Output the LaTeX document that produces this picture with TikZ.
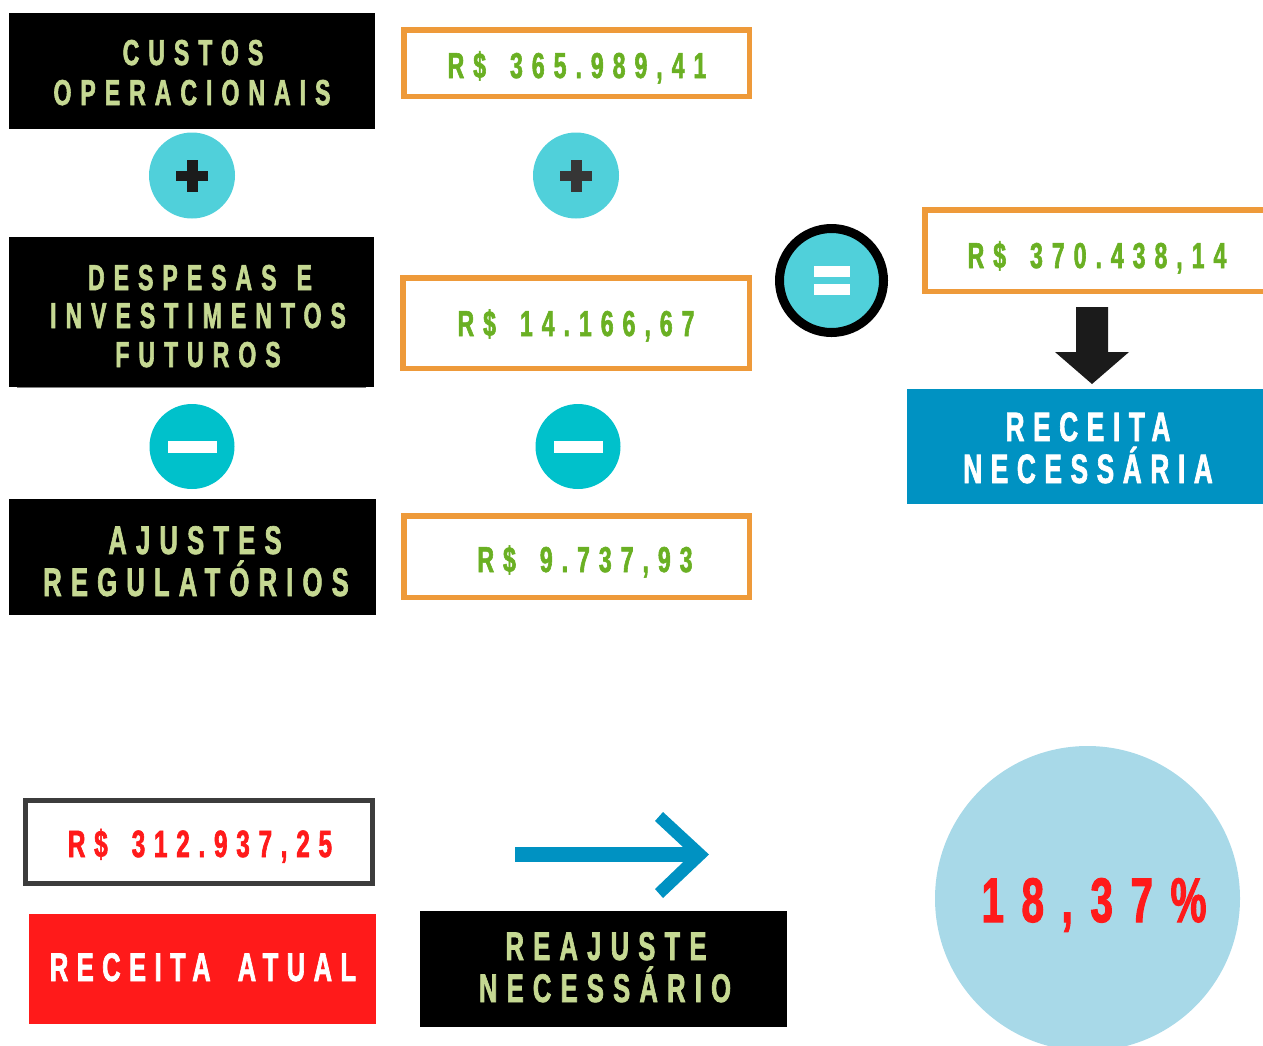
\documentclass[tikz,border=0pt]{standalone}
\usepackage{fontspec}
\newfontfamily\osw{Liberation Sans}[FakeStretch=0.64, FakeBold=1.6]
\newcommand\wgap[1]{\hspace{#1pt}}
\definecolor{labgreen}{RGB}{197,216,146}
\definecolor{numgreen}{RGB}{106,176,35}
\definecolor{boxorange}{RGB}{238,154,58}
\definecolor{plusteal}{RGB}{80,208,218}
\definecolor{minusteal}{RGB}{0,193,203}
\definecolor{deepblue}{RGB}{0,146,194}
\definecolor{brightred}{RGB}{255,26,26}
\definecolor{paleblue}{RGB}{168,217,232}
\definecolor{darkgray}{RGB}{60,60,60}
\definecolor{nearblack}{RGB}{27,27,27}
\tikzset{
  blackbox/.style={rectangle, fill=black, inner sep=0, outer sep=0},
  orangebox/.style={rectangle, draw=boxorange, line width=5.5pt, fill=white, inner sep=0, outer sep=0},
  signcircle/.style={circle, inner sep=0, outer sep=0, minimum size=86pt},
  txtA/.style={inner sep=0, anchor=base, font=\osw\bfseries\fontsize{36}{36}\selectfont\addfontfeature{LetterSpace=25}},
  txtB/.style={inner sep=0, anchor=base, font=\osw\bfseries\fontsize{40}{40}\selectfont\addfontfeature{LetterSpace=23}},
}
\begin{document}
\begin{tikzpicture}[x=1pt,y=-1pt]
\useasboundingbox (0,0) rectangle (1263,1045);
% left column boxes
\node[blackbox, minimum width=366pt, minimum height=116pt] (b1) at (192,71) {};
\node[txtA, text=labgreen] (b1a) at (193,65) {CUSTOS};
\node[txtA, text=labgreen] (b1b) at (192,105) {OPERACIONAIS};

\draw[gray, line width=1.2pt] (17,387.5) -- (366,387.5);
\node[blackbox, minimum width=365pt, minimum height=150pt] (b2) at (191.5,312) {};
\node[txtA, text=labgreen] (b2a) at (200,290) {DESPESAS\wgap{20}E};
\node[txtA, text=labgreen] (b2b) at (198,328) {INVESTIMENTOS};
\node[txtA, text=labgreen] (b2c) at (198,367) {FUTUROS};

\node[blackbox, minimum width=367pt, minimum height=116pt] (b3) at (192.5,557) {};
\node[txtB, text=labgreen] (b3a) at (195,554) {AJUSTES};
\node[txtB, text=labgreen] (b3b) at (196,596) {REGULATÓRIOS};

% plus circles
\node[signcircle, fill=plusteal] (p1) at (192,175.5) {};
\fill[nearblack] ([xshift=-16pt,yshift=-5pt]p1.center) rectangle ([xshift=16pt,yshift=5pt]p1.center);
\fill[nearblack] ([xshift=-5.5pt,yshift=-16pt]p1.center) rectangle ([xshift=5.5pt,yshift=16pt]p1.center);
\node[signcircle, fill=plusteal] (p2) at (576,175.5) {};
\fill[darkgray!90!black] ([xshift=-16pt,yshift=-5pt]p2.center) rectangle ([xshift=16pt,yshift=5pt]p2.center);
\fill[darkgray!90!black] ([xshift=-5.5pt,yshift=-16pt]p2.center) rectangle ([xshift=5.5pt,yshift=16pt]p2.center);

% minus circles
\node[signcircle, fill=minusteal, minimum size=85pt] (m1) at (192,446.5) {};
\fill[white] ([xshift=-24.5pt,yshift=-6pt]m1.center) rectangle ([xshift=24.5pt,yshift=6pt]m1.center);
\node[signcircle, fill=minusteal, minimum size=85pt] (m2) at (578,446.5) {};
\fill[white] ([xshift=-24.5pt,yshift=-6pt]m2.center) rectangle ([xshift=24.5pt,yshift=6pt]m2.center);

% orange value boxes
\node[orangebox, minimum width=345.5pt, minimum height=66.5pt] (o1) at (576.5,63) {};
\node[txtA, text=numgreen] (o1t) at (577,78) {R\$\wgap{24}365.989,41};
\node[orangebox, minimum width=346.5pt, minimum height=90.5pt] (o2) at (576,323) {};
\node[txtA, text=numgreen] (o2t) at (576,336) {R\$\wgap{24}14.166,67};
\node[orangebox, minimum width=345.5pt, minimum height=81.5pt] (o3) at (576.5,556.5) {};
\node[txtA, text=numgreen] (o3t) at (585,572) {R\$\wgap{24}9.737,93};

% equals circle
\node[circle, draw=black, line width=9pt, fill=plusteal, minimum size=104pt, inner sep=0] (eq) at (831.5,280.5) {};
\fill[white] ([xshift=-17.5pt,yshift=-14.5pt]eq.center) rectangle ([xshift=18pt,yshift=-3.5pt]eq.center);
\fill[white] ([xshift=-17.5pt,yshift=3.5pt]eq.center) rectangle ([xshift=18pt,yshift=14.5pt]eq.center);

% result box
\node[orangebox, minimum width=344.5pt, minimum height=81.5pt] (o4) at (1097,250.5) {};
\node[txtA, text=numgreen] (o4t) at (1097,268) {R\$\wgap{24}370.438,14};

% down arrow
\fill[nearblack] (1076,307) -- (1108,307) -- (1108,352) -- (1129,352) -- (1092,384) -- (1055,352) -- (1076,352) -- cycle;

% receita necessaria
\node[rectangle, fill=deepblue, minimum width=356pt, minimum height=115pt, inner sep=0] (rn) at (1085,446.5) {};
\node[txtB, text=white, font=\osw\bfseries\fontsize{41}{41}\selectfont\addfontfeature{LetterSpace=21}] (rna) at (1088,441) {RECEITA};
\node[txtB, text=white, font=\osw\bfseries\fontsize{41}{41}\selectfont\addfontfeature{LetterSpace=21}] (rnb) at (1088,483) {NECESSÁRIA};

% bottom left
\node[rectangle, draw=darkgray, line width=5pt, fill=white, minimum width=347pt, minimum height=83pt, inner sep=0] (ra) at (199,842) {};
\node[txtA, text=brightred, font=\osw\bfseries\fontsize{38}{38}\selectfont\addfontfeature{LetterSpace=23}] (rat) at (200,857) {R\$\wgap{24}312.937,25};
\node[rectangle, fill=brightred, minimum width=347pt, minimum height=110pt, inner sep=0] (rb) at (202.5,969) {};
\node[txtB, text=white, font=\osw\bfseries\fontsize{40}{40}\selectfont\addfontfeature{LetterSpace=21}] (rbt) at (203,981) {RECEITA\wgap{27}ATUAL};

% blue arrow
\fill[deepblue] (515,847) -- (695,847) -- (695,862) -- (515,862) -- cycle;
\fill[deepblue] (663,812) -- (709,854.5) -- (663,898) -- (655,889) -- (691,854.5) -- (655,821) -- cycle;

% reajuste
\node[blackbox, minimum width=367pt, minimum height=116pt] (rj) at (603.5,969) {};
\node[txtB, text=labgreen] (rja) at (606,960) {REAJUSTE};
\node[txtB, text=labgreen] (rjb) at (605,1002) {NECESSÁRIO};

% result circle
\node[circle, fill=paleblue, minimum size=305pt, inner sep=0] (res) at (1087.5,898.5) {};
\node[inner sep=0, anchor=base, text=brightred, font=\osw\bfseries\fontsize{63}{63}\selectfont\addfontfeature{LetterSpace=28}] (rest) at (1094,922) {18,37\%};
\end{tikzpicture}
\end{document}
